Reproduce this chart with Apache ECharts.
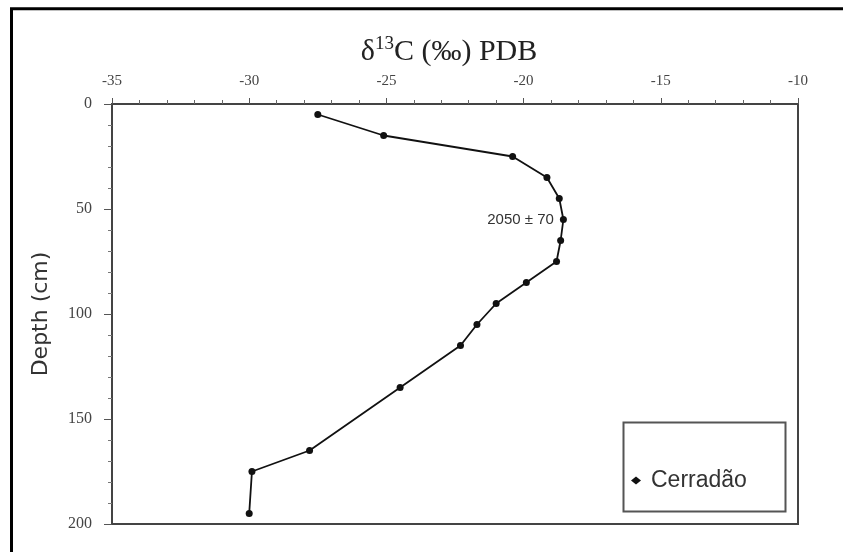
<!DOCTYPE html>
<html>
<head>
<meta charset="utf-8">
<script src="https://cdn.jsdelivr.net/npm/echarts@6/dist/echarts.min.js"></script>
<style>
  html, body { margin: 0; padding: 0; background: #fff; }
  #chart { width: 843px; height: 552px; }
</style>
</head>
<body>
<div id="chart"></div>
<script>
// Soil profile: depth (cm) and carbon isotope ratio δ13C (‰ vs PDB)
const depthCm = [5, 15, 25, 35, 45, 55, 65, 75, 85, 95, 105, 115, 135, 165, 175, 195];
const delta13C = [-27.5, -25.1, -20.4, -19.15, -18.7, -18.55, -18.65, -18.8, -19.9, -21.0, -21.7, -22.3, -24.5, -27.8, -29.9, -30.0];
const xTicks = [-35, -30, -25, -20, -15, -10];
const yTicks = [0, 50, 100, 150, 200];
const seriesName = 'Cerradão';
// radiocarbon date shown beside the sample at 55 cm
const datedDepth = 55;
const datedLabel = '2050 ± 70';

const points = depthCm.map((d, i) => ({
  value: [delta13C[i], d],
  label: d === datedDepth ? {
    show: true, position: 'left', distance: 6,
    formatter: datedLabel,
    fontFamily: 'Liberation Sans, Arial, sans-serif',
    fontSize: 15, color: '#333'
  } : { show: false }
}));

const chart = echarts.init(document.getElementById('chart'), null, { renderer: 'canvas' });

const serif = 'Liberation Serif, Times New Roman, serif';

chart.setOption({
  animation: false,
  backgroundColor: '#fff',
  title: {
    text: '{b|δ}{s|13}{b|C (‰) PDB}',
    left: 444, top: 30, textAlign: 'center',
    textStyle: {
      fontWeight: 'normal',
      rich: {
        b: { fontFamily: serif, fontSize: 30, fontWeight: 'normal', color: '#222', lineHeight: 34 },
        s: { fontFamily: serif, fontSize: 19, fontWeight: 'normal', color: '#222', verticalAlign: 'top', lineHeight: 34, padding: [0, 0, 10, 0] }
      }
    }
  },
  grid: {
    left: 112, top: 104, right: 45, bottom: 28,
    show: true, borderColor: '#444', borderWidth: 2, backgroundColor: 'transparent'
  },
  xAxis: {
    type: 'value', position: 'top',
    min: xTicks[0], max: xTicks[xTicks.length - 1], interval: 5,
    axisLine: { show: true, lineStyle: { color: '#444', width: 2 } },
    axisTick: { show: true, length: 6, lineStyle: { color: '#555', width: 1 } },
    minorTick: { show: true, splitNumber: 5, length: 4, lineStyle: { color: '#666', width: 1 } },
    splitLine: { show: false },
    axisLabel: {
      margin: 15, fontFamily: serif, fontSize: 15, color: '#444',
      formatter: v => xTicks.includes(v) ? String(v) : ''
    }
  },
  yAxis: {
    type: 'value', inverse: true,
    min: yTicks[0], max: yTicks[yTicks.length - 1], interval: 50,
    name: 'Depth (cm)', nameLocation: 'middle', nameGap: 60, nameRotate: 90,
    nameTextStyle: { fontFamily: 'DejaVu Sans, Verdana, sans-serif', fontSize: 22, color: '#333' },
    axisLine: { show: true, lineStyle: { color: '#444', width: 2 } },
    axisTick: { show: true, length: 8, lineStyle: { color: '#555', width: 1 } },
    minorTick: { show: true, splitNumber: 5, length: 4, lineStyle: { color: '#777', width: 1 } },
    splitLine: { show: false },
    axisLabel: {
      margin: 20, fontFamily: serif, fontSize: 16, color: '#444',
      formatter: v => yTicks.includes(v) ? String(v) : ''
    }
  },
  legend: {
    show: true, left: 626, top: 464,
    icon: 'diamond', itemWidth: 10, itemHeight: 8, itemGap: 0,
    textStyle: { fontFamily: 'Liberation Sans, Arial, sans-serif', fontSize: 23, color: '#333', padding: [0, 0, 0, 5] },
    data: [seriesName]
  },
  graphic: [
    {
      type: 'rect', silent: true, z: 100,
      shape: { x: 11.5, y: 8.7, width: 900, height: 700 },
      style: { fill: 'none', stroke: '#000', lineWidth: 3 }
    },
    {
      type: 'rect', silent: true, z: 100,
      shape: { x: 623.5, y: 422.5, width: 162, height: 89 },
      style: { fill: 'none', stroke: '#555', lineWidth: 2 }
    }
  ],
  series: [{
    name: seriesName,
    type: 'line',
    data: points,
    symbol: 'circle', symbolSize: 7,
    itemStyle: { color: '#111' },
    lineStyle: { color: '#111', width: 1.8 }
  }]
});
</script>
</body>
</html>
